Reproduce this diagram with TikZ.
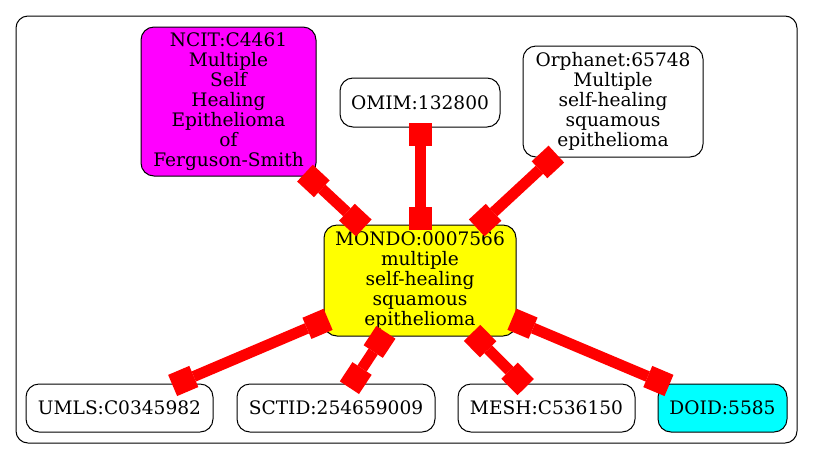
\documentclass[tikz,border=0pt]{standalone}
\usepackage{fontspec}
\setmainfont{DejaVu Serif}
\usetikzlibrary{arrows.meta}
\definecolor{Red}{HTML}{FF0000}
\definecolor{Magenta}{HTML}{FF00FF}
\definecolor{Yellow}{HTML}{FFFF00}
\definecolor{Cyan}{HTML}{00FFFF}
\begin{document}
\begin{tikzpicture}[x=1pt,y=-1pt,
    term/.style={draw=black,line width=1pt,rounded corners=13pt,align=center,
      inner xsep=4pt,inner ysep=2pt,font=\fontsize{18.6}{20}\selectfont},
    link/.style={Red,line width=11pt,
      {Square[length=23pt,width=23pt,line width=0pt]}-{Square[length=23pt,width=23pt,line width=0pt]},
      shorten <=-5pt,shorten >=-5pt}]
      \useasboundingbox (0,0) rectangle (813,459);
      \draw[line width=1pt,rounded corners=12pt] (16,16) rectangle (797,443);
      % source terms
      \node[term,fill=Magenta,minimum width=175pt,minimum height=149pt] (ncit) at (228.5,101.5)
        {NCIT:C4461\\Multiple\\Self\\Healing\\Epithelioma\\of\\Ferguson-Smith};
      \node[term,minimum width=160pt,minimum height=49pt] (omim) at (420,102.5){OMIM:132800};
      \node[term,minimum width=180pt,minimum height=111pt] (orpha) at (613,101.5)
        {Orphanet:65748\\Multiple\\self-healing\\squamous\\epithelioma};
      \node[term,fill=Yellow,minimum width=192pt,minimum height=111pt] (mondo) at (420,280.5)
        {MONDO:0007566\\multiple\\self-healing\\squamous\\epithelioma};
      \node[term,minimum width=187pt,minimum height=48pt] (umls) at (119.5,408){UMLS:C0345982};
      \node[term,minimum width=198pt,minimum height=48pt] (sctid) at (336,408){SCTID:254659009};
      \node[term,minimum width=177pt,minimum height=48pt] (mesh) at (546.5,408){MESH:C536150};
      \node[term,fill=Cyan,minimum width=129pt,minimum height=48pt] (doid) at (722.5,408){DOID:5585};
      % mappings
      \draw[link] (ncit) -- (mondo);
      \draw[link] (omim) -- (mondo);
      \draw[link] (orpha) -- (mondo);
      \draw[link] (mondo) -- (umls);
      \draw[link] (mondo) -- (sctid);
      \draw[link] (mondo) -- (mesh);
      \draw[link] (mondo) -- (doid);
\end{tikzpicture}
\end{document}
